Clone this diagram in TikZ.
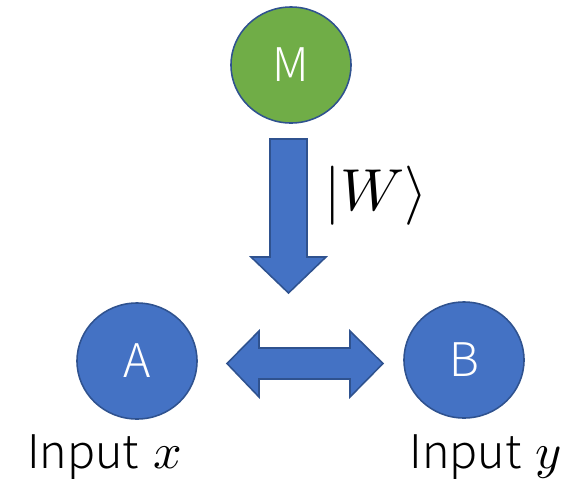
\documentclass[tikz,border=0pt]{standalone}
\usepackage{fontspec}
\usepackage{unicode-math}
\setmainfont{Noto Sans CJK JP}[UprightFont={* Light}]
\setmathfont{Latin Modern Math}[Scale=1.08]
\usepackage{tikz}
\usetikzlibrary{shapes.geometric}

\definecolor{offblue}{HTML}{4472C4}
\definecolor{offgreen}{HTML}{70AD47}
\definecolor{edgeblue}{HTML}{2F528F}

\begin{document}
\begin{tikzpicture}[x=0.025cm,y=-0.025cm,
    party/.style={ellipse,draw=edgeblue,line width=1.1pt,fill=offblue,
        minimum width=3cm,minimum height=2.9cm,inner sep=0pt,
        text=white,font=\fontsize{33}{40}\selectfont},
    fatarrow/.style={draw=edgeblue,line width=1.1pt,fill=offblue,line join=miter},
    caption/.style={font=\fontsize{33}{40}\selectfont,inner sep=0pt}]
\useasboundingbox (0,0) rectangle (585,481);

% source and the two parties
\node[party,fill=offgreen] (m) at (291,65) {M};
\node[party] (a) at (137,361) {A};
\node[party] (b) at (464,360) {B};

% state sent down
\draw[fatarrow] (270,139) -- (307,139) -- (307,257) -- (326,257) -- (288.5,293)
    -- (251,257) -- (270,257) -- cycle;
\node[font=\fontsize{39}{48}\selectfont] (w) at (376,196) {$|W\rangle$};

% link between A and B
\draw[fatarrow] (227,363.5) -- (259,331) -- (259,348) -- (350,348) -- (350,331)
    -- (383,363.5) -- (350,397) -- (350,379) -- (259,379) -- (259,397) -- cycle;

% inputs
\node[caption,anchor=base] (ax) at (104.5,468) {Input\hspace{0.08em} $x$};
\node[caption,anchor=base] (by) at (485.5,468) {Input\hspace{0.08em} $y$};
\end{tikzpicture}
\end{document}
